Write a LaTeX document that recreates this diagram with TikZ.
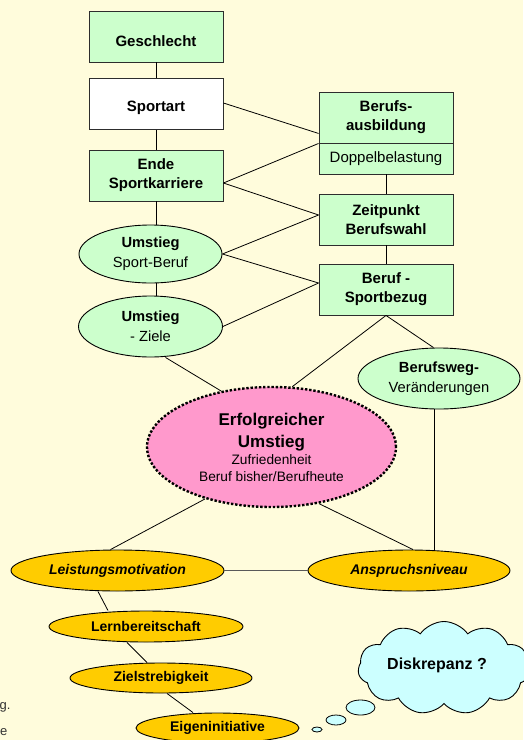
\documentclass[tikz,border=0pt]{standalone}
\usepackage{fontspec}
\setmainfont{Liberation Sans}
\usetikzlibrary{shapes.geometric,shapes.symbols}
\definecolor{bg}{RGB}{255,252,220}
\definecolor{boxgreen}{RGB}{204,255,204}
\definecolor{pinkfill}{RGB}{255,153,204}
\definecolor{goldfill}{RGB}{255,204,0}
\definecolor{cloudfill}{RGB}{204,255,255}
\definecolor{edge}{RGB}{45,45,45}
\begin{document}
\begin{tikzpicture}[x=1pt,y=-1pt,
  box/.style={draw=edge, line width=0.9pt, fill=boxgreen, minimum width=134pt, minimum height=51pt, inner sep=0pt, align=center, font=\fontsize{15}{19}\selectfont\bfseries},
  oval/.style={ellipse, draw=black, line width=0.9pt, fill=boxgreen, inner sep=0pt, align=center, font=\fontsize{14.7}{20}\selectfont},
  goldoval/.style={ellipse, draw=black, line width=0.9pt, fill=goldfill, inner sep=0pt, align=center, font=\fontsize{14}{17}\selectfont\bfseries},
  bubble/.style={ellipse, draw=black, line width=0.8pt, fill=cloudfill, inner sep=0pt},
  conn/.style={draw=black, line width=0.8pt},
  erftext/.style={anchor=base, inner sep=0pt},
]
\path[use as bounding box, fill=bg] (0,0) rectangle (523,740);

% boxes
\node[box] (gesch) at (156,36.5) {\raisebox{-5pt}[\height][\depth]{Geschlecht}};
\node[box, fill=white] (sport) at (156,104) {\raisebox{-4pt}[\height][\depth]{Sportart}};
\node[box] (ende) at (156,175.5) {Ende\\Sportkarriere};
\node[box] (berufa) at (386,117.5) {Berufs-\\ausbildung};
\node[box, minimum height=31pt, font=\fontsize{15}{19}\selectfont] (doppel) at (386,158.5) {Doppelbelastung};
\node[box] (zeit) at (386,219.5) {Zeitpunkt\\Berufswahl};
\node[box] (beruf) at (386,289.5) {Beruf -\\Sportbezug};

% green ovals
\node[oval, minimum width=143pt, minimum height=58pt] (um1) at (150.5,254) {\textbf{Umstieg}\\Sport-Beruf};
\node[oval, minimum width=144pt, minimum height=61pt] (um2) at (150.5,326.5) {\textbf{Umstieg}\\- Ziele};
\node[oval, minimum width=162pt, minimum height=61pt] (bw) at (439,378.5) {\textbf{Berufsweg-}\\Veränderungen};

% central ellipse
\node[ellipse, draw=black, fill=pinkfill, line width=2.4pt, dash pattern=on 2.4pt off 1.8pt, minimum width=249pt, minimum height=120pt, inner sep=0pt] (erf) at (271.5,447) {};
\node[erftext, font=\fontsize{17}{20}\selectfont\bfseries] (erf1) at (271.5,425) {Erfolgreicher};
\node[erftext, font=\fontsize{17}{20}\selectfont\bfseries] (erf2) at (271.5,447) {Umstieg};
\node[erftext, font=\fontsize{13.7}{16}\selectfont] (erf3) at (271.5,464.5) {Zufriedenheit};
\node[erftext, font=\fontsize{13.7}{16}\selectfont] (erf4) at (271.5,481.5) {Beruf bisher/Berufheute};

% gold ovals
\node[goldoval, minimum width=213pt, minimum height=41pt, font=\fontsize{14}{17}\selectfont\bfseries\itshape] (leist) at (117.5,570.5) {Leistungsmotivation};
\node[goldoval, minimum width=202pt, minimum height=41pt, font=\fontsize{14}{17}\selectfont\bfseries\itshape] (ansp) at (409,570.5) {Anspruchsniveau};
\node[goldoval, minimum width=194pt, minimum height=31pt] (lern) at (146,626.5) {Lernbereitschaft};
\node[goldoval, minimum width=182pt, minimum height=30pt] (ziel) at (161,678) {Zielstrebigkeit};
\node[goldoval, minimum width=163pt, minimum height=30pt] (eigen) at (217.5,728) {Eigeninitiative};

% cloud
\node[cloud, cloud puffs=11, cloud puff arc=110, aspect=1.85, draw=black, line width=0.9pt, fill=cloudfill, minimum width=172pt, minimum height=93pt, inner sep=0pt] (cloud) at (444,668) {};
\node[font=\fontsize{16}{19}\selectfont\bfseries] (disk) at (437,665) {Diskrepanz ?};
\node[bubble, minimum width=29pt, minimum height=15pt] (b1) at (360.5,707.5) {};
\node[bubble, minimum width=20pt, minimum height=10pt] (b2) at (336,720) {};
\node[bubble, minimum width=10pt, minimum height=5pt] (b3) at (317,729.5) {};

% stray text at left
\node[anchor=base west, inner sep=0pt, font=\fontsize{13}{15}\selectfont, text=black!80] (gtxt) at (-0.5,709) {g.};
\node[anchor=base west, inner sep=0pt, font=\fontsize{13}{15}\selectfont, text=black!80] (etxt) at (0,735) {e};

% connectors
\draw[conn] (gesch.south) -- (sport.north);
\draw[conn] (sport.south) -- (ende.north);
\draw[conn] (ende.south) -- (ende.south |- um1.north);
\draw[conn] (ende.south |- um1.south) -- (ende.south |- um2.north);
\draw[conn] ([yshift=1pt]sport.east) -- ([yshift=10pt]berufa.south west);
\draw[conn] ([yshift=-7.5pt]ende.east) -- (berufa.south west);
\draw[conn] ([yshift=-7.5pt]ende.east) -- ([yshift=4.5pt]zeit.west);
\draw[conn] (doppel.south) -- (zeit.north);
\draw[conn] (um1.east) -- ([yshift=4.5pt]zeit.west);
\draw[conn] (um1.east) -- ([yshift=6.5pt]beruf.west);
\draw[conn] (um2.east) -- ([yshift=6.5pt]beruf.west);
\draw[conn] (zeit.south) -- (beruf.north);
\draw[conn] (beruf.south) -- (erf.71);
\draw[conn] (beruf.south) -- ([xshift=-5.5pt]bw.north);
\draw[conn] ([xshift=-5pt]bw.south) coordinate (bwb) -- (bwb |- ansp.north);
\draw[conn] ([xshift=15pt]um2.south) -- (erf.132);
\draw[conn] (erf.218) -- ([xshift=-7pt]leist.north);
\draw[conn] (erf.310) -- ([xshift=4pt]ansp.north);
\draw[conn, draw=black!65, line width=1.4pt] (leist.east) -- (ansp.west);
\draw[conn] ([xshift=-19.5pt]leist.south) -- ([xshift=-38pt]lern.north);
\draw[conn] ([xshift=-19pt]lern.south) -- ([xshift=-14pt]ziel.north);
\draw[conn] ([xshift=6pt]ziel.south) -- ([xshift=-24.5pt]eigen.north);
\end{tikzpicture}
\end{document}
